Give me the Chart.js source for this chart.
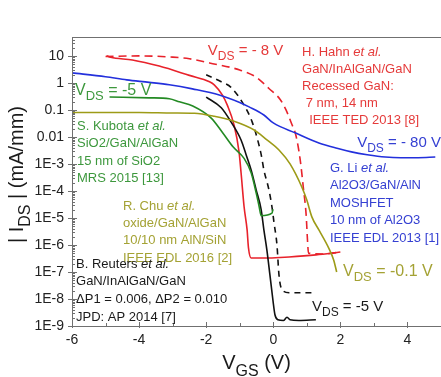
<!DOCTYPE html>
<html>
<head>
<meta charset="utf-8">
<script src="https://cdn.jsdelivr.net/npm/chart.js@4.4.1/dist/chart.umd.min.js"></script>
<style>
  html, body { margin: 0; padding: 0; background: #fff; overflow: hidden; }
  canvas { display: block; }
</style>
</head>
<body>
<canvas id="c" width="441" height="377"></canvas>
<script>
// Transfer curves: gate voltage V_GS (V) and |I_DS| (mA/mm) for each device
const liVgs = [-6.0, -5.0, -4.37, -3.7, -3.1, -2.41, -1.61, -1.0, -0.72, -0.28, 0.0, 0.67, 1.36, 1.9, 2.33, 2.8, 3.34, 3.8, 4.32, 4.83];
const liIds = [2.35, 1.7, 1.3, 1.05, 0.85, 0.6, 0.36, 0.19, 0.13, 0.065, 0.033, 0.014, 6e-3, 3.8e-3, 2.8e-3, 2.2e-3, 1.8e-3, 1.7e-3, 1.7e-3, 1.8e-3];

const hahnVgs = [-4.97, -4.85, -4.2, -3.4, -2.5, -1.9, -1.76, -1.52, -1.37, -1.17, -1.02, -0.96, -0.87, -0.78, -0.74, -0.66, -0.13, 0.47, 1.27, 2.0];
const hahnIds = [10.2, 8.9, 7.1, 4.2, 1.9, 1.1, 0.85, 0.36, 0.15, 0.028, 2.8e-3, 4.7e-4, 2.6e-5, 3.6e-6, 8e-7, 3.3e-7, 3.3e-7, 3.6e-7, 4.3e-7, 5.5e-7];

const hahnRecVgs = [-5.0, -4.0, -3.0, -2.5, -1.9, -1.0, -0.5, -0.13, 0.2, 0.38, 0.55, 0.67, 0.8, 0.9, 0.98, 1.02, 1.05, 1.5, 2.0];
const hahnRecIds = [9.5, 10, 9.0, 7.8, 5.5, 3.0, 1.6, 0.62, 0.25, 0.1, 0.03, 0.012, 1.5e-3, 1.2e-4, 1.3e-5, 1.5e-6, 5e-7, 4.6e-7, 5.5e-7];

const reutersAVgs = [-2.0, -1.55, -1.26, -0.87, -0.63, -0.48, -0.36, -0.28, -0.13, -0.04, 0.02, 0.11, 0.17, 0.26, 0.47, 1.15];
const reutersAIds = [2.0, 1.1, 0.68, 0.15, 0.036, 9e-3, 2.2e-3, 6e-4, 1.1e-4, 2.6e-5, 7e-6, 1e-6, 7.8e-8, 2.2e-8, 1.7e-8, 1.7e-8];

const reutersBVgs = [-2.0, -1.55, -1.26, -0.96, -0.81, -0.66, -0.51, -0.36, -0.28, -0.19, -0.10, -0.01, 0.05, 0.14, 0.3, 0.41, 0.5, 0.76, 1.27];
const reutersBIds = [0.30, 0.12, 0.036, 7.7e-3, 2.2e-3, 6e-4, 1.1e-4, 2e-5, 3.6e-6, 6.5e-7, 7.8e-8, 9e-9, 2.6e-9, 1.7e-9, 1.6e-9, 2.1e-9, 1.7e-9, 1.6e-9, 1.7e-9];

const kubotaVgs = [-4.88, -3.69, -3.1, -2.8, -2.4, -1.85, -1.52, -1.2, -0.87, -0.66, -0.51, -0.42, -0.36, -0.04, -0.01];
const kubotaIds = [0.30, 0.28, 0.26, 0.2, 0.14, 0.05, 0.015, 4.3e-3, 1.6e-3, 4.7e-4, 8.5e-5, 2.6e-5, 1.2e-5, 1.5e-5, 2.1e-5];

const chuVgs = [-6.0, -4.0, -3.0, -2.35, -1.76, -1.17, -0.57, -0.2, 0.17, 0.5, 0.85, 1.0, 1.15, 1.36, 1.65, 1.8, 1.89];
const chuIds = [0.08, 0.08, 0.077, 0.075, 0.058, 0.038, 0.018, 8e-3, 3.3e-3, 1e-3, 1.4e-4, 4.6e-5, 1.1e-5, 3.6e-6, 7.8e-7, 2.8e-7, 1.0e-7];

// Axis ticks
const xTickValues = [-6, -4, -2, 0, 2, 4];
const xTickLabels = ['-6', '-4', '-2', '0', '2', '4'];
const yTickValues = [1e-9, 1e-8, 1e-7, 1e-6, 1e-5, 1e-4, 1e-3, 0.01, 0.1, 1, 10];
const yTickLabels = ['1E-9', '1E-8', '1E-7', '1E-6', '1E-5', '1E-4', '1E-3', '0.01', '0.1', '1', '10'];

const FAMILY = '"Liberation Sans", Arial, Helvetica, sans-serif';
const RED = '#e8222b', BLUE = '#2330dc', GREEN = '#238a23', OLIVE = '#9d9b17', BLACK = '#111111';
const RED_T = '#e53a3a', BLUE_T = '#3540d2', GREEN_T = '#3d983d', OLIVE_T = '#a4a234', BLACK_T = '#1a1a1a';
const AXIS = '#707070';

const toPoints = (vg, id) => vg.map((v, i) => ({ x: v, y: id[i] }));

// Text annotations, anchored in data coordinates (x = V_GS, y = |I_DS| at baseline)
const notes = [
  { x: -1.95, y: 10.8, color: RED_T, size: 15, parts: [['V'], ['DS', 'sub'], [' = - 8 V']] },
  { x: -5.91, y: 0.356, color: GREEN_T, size: 16, parts: [['V'], ['DS', 'sub'], [' = -5 V']] },
  { x: 2.50, y: 4.2e-3, color: BLUE_T, size: 15, parts: [['V'], ['DS', 'sub'], [' = - 80 V']] },
  { x: 2.08, y: 7.4e-8, color: OLIVE_T, size: 16, parts: [['V'], ['DS', 'sub'], [' = -0.1 V']] },
  { x: 1.155, y: 3.5e-9, color: BLACK_T, size: 15, parts: [['V'], ['DS', 'sub'], [' = -5 V']] }
];
const blocks = [
  { x: 0.857, y: 10.3, color: RED_T, gap: 17, lines: [
    [['H. Hahn '], ['et al.', 'i']],
    [['GaN/InAlGaN/GaN']],
    [['Recessed GaN:']],
    [[' 7 nm, 14 nm']],
    [['  IEEE TED 2013 [8]']]
  ]},
  { x: -5.85, y: 0.018, color: GREEN_T, gap: 17.3, lines: [
    [['S. Kubota '], ['et al.', 'i']],
    [['SiO2/GaN/AlGaN']],
    [['15 nm of SiO2']],
    [['MRS 2015 [13]']]
  ]},
  { x: -4.48, y: 2.0e-5, color: OLIVE_T, gap: 17.3, lines: [
    [['R. Chu '], ['et al.', 'i']],
    [['oxide/GaN/AlGaN']],
    [['10/10 nm AlN/SiN']],
    [['IEEE EDL 2016 [2]']]
  ]},
  { x: -5.88, y: 1.46e-7, color: BLACK_T, gap: 17.7, lines: [
    [['B. Reuters '], ['et al.', 'i']],
    [['GaN/InAlGaN/GaN']],
    [['\u0394P1 = 0.006, \u0394P2 = 0.010']],
    [['JPD: AP 2014 [7]']]
  ]},
  { x: 1.69, y: 5.2e-4, color: BLUE_T, gap: 17.5, lines: [
    [['G. Li '], ['et al.', 'i']],
    [['Al2O3/GaN/AlN']],
    [['MOSHFET']],
    [['10 nm of Al2O3']],
    [['IEEE EDL 2013 [1]']]
  ]}
];

function partFont(style, size) {
  const s = style === 'sub' ? Math.round(size * 0.8) : size;
  return (style === 'i' ? 'italic ' : '') + s + 'px ' + FAMILY;
}
function richWidth(ctx, parts, size) {
  let w = 0;
  for (const [t, st] of parts) { ctx.font = partFont(st, size); w += ctx.measureText(t).width; }
  return w;
}
function drawRich(ctx, x, y, parts, size, color, align) {
  ctx.save();
  ctx.fillStyle = color;
  ctx.textBaseline = 'alphabetic';
  ctx.textAlign = 'left';
  let cx = align === 'center' ? x - richWidth(ctx, parts, size) / 2 : x;
  for (const [t, st] of parts) {
    ctx.font = partFont(st, size);
    const dy = st === 'sub' ? size * 0.33 : 0;
    ctx.fillText(t, cx, y + dy);
    cx += ctx.measureText(t).width;
  }
  ctx.restore();
}

const decorations = {
  id: 'decorations',
  afterDraw(chart) {
    const ctx = chart.ctx, a = chart.chartArea;
    const xs = chart.scales.x, ys = chart.scales.y;
    ctx.save();
    // frame (left, top, bottom)
    ctx.strokeStyle = AXIS;
    ctx.lineWidth = 1;
    ctx.beginPath();
    ctx.moveTo(a.left + 0.5, a.bottom + 0.5);
    ctx.lineTo(a.left + 0.5, a.top + 0.5);
    ctx.lineTo(a.right, a.top + 0.5);
    ctx.moveTo(a.left, a.bottom + 0.5);
    ctx.lineTo(a.right, a.bottom + 0.5);
    // y ticks: decades cross the axis, minors point inward
    for (let e = -9; e <= 1; e++) {
      const py = Math.round(ys.getPixelForValue(Math.pow(10, e))) + 0.5;
      ctx.moveTo(a.left - 4, py); ctx.lineTo(a.left + 5, py);
      for (let m = 2; m <= 9; m++) {
        const v = m * Math.pow(10, e);
        if (v > ys.max) break;
        const pm = Math.round(ys.getPixelForValue(v)) + 0.5;
        ctx.moveTo(a.left, pm); ctx.lineTo(a.left + 3, pm);
      }
    }
    // x ticks: every volt, inward
    for (let v = -6; v <= 5; v++) {
      const px = Math.round(xs.getPixelForValue(v)) + 0.5;
      const major = v % 2 === 0;
      ctx.moveTo(px, a.bottom + (major ? 2 : 0));
      ctx.lineTo(px, a.bottom - (major ? 4 : 3));
    }
    ctx.stroke();
    ctx.restore();

    // annotations
    for (const n of notes) {
      drawRich(ctx, xs.getPixelForValue(n.x), ys.getPixelForValue(n.y), n.parts, n.size, n.color, 'left');
    }
    for (const b of blocks) {
      const x0 = xs.getPixelForValue(b.x), y0 = ys.getPixelForValue(b.y);
      b.lines.forEach((ln, i) => drawRich(ctx, x0, y0 + i * b.gap, ln, 13, b.color, 'left'));
    }

    // axis titles
    drawRich(ctx, (a.left + a.right) / 2, a.bottom + 43,
      [['V'], ['GS', 'sub'], [' (V)']], 20, '#1a1a1a', 'center');
    ctx.save();
    ctx.translate(23, (a.top + a.bottom) / 2 - 7);
    ctx.rotate(-Math.PI / 2);
    drawRich(ctx, 0, 0, [['| I'], ['DS', 'sub'], [' | (mA/mm)']], 20, '#1a1a1a', 'center');
    ctx.restore();
  }
};

const line = (vg, id, color, dash) => ({
  data: toPoints(vg, id),
  borderColor: color,
  borderWidth: 1.6,
  borderDash: dash || [],
  pointRadius: 0,
  fill: false,
  cubicInterpolationMode: 'monotone'
});

new Chart(document.getElementById('c'), {
  type: 'line',
  data: {
    datasets: [
      line(chuVgs, chuIds, OLIVE),
      line(liVgs, liIds, BLUE),
      line(kubotaVgs, kubotaIds, GREEN),
      line(reutersAVgs, reutersAIds, BLACK, [6, 5]),
      line(reutersBVgs, reutersBIds, BLACK),
      line(hahnRecVgs, hahnRecIds, RED, [8, 5]),
      line(hahnVgs, hahnIds, RED)
    ]
  },
  options: {
    responsive: false,
    animation: false,
    devicePixelRatio: 1,
    layout: { padding: { top: 37, right: 0, bottom: 0, left: 0 } },
    plugins: { legend: { display: false }, tooltip: { enabled: false } },
    scales: {
      x: {
        type: 'linear', min: -6, max: 5,
        grid: { display: false, drawTicks: false },
        border: { display: false },
        afterBuildTicks: s => { s.ticks = xTickValues.map(v => ({ value: v })); },
        afterFit: s => { s.height = 51; },
        ticks: {
          font: { family: FAMILY, size: 14 }, color: '#222', padding: 6,
          maxRotation: 0, autoSkip: false,
          callback: (v, i) => xTickLabels[i]
        }
      },
      y: {
        type: 'logarithmic', min: 1e-9, max: 50.1,
        grid: { display: false, drawTicks: false },
        border: { display: false },
        afterBuildTicks: s => { s.ticks = yTickValues.map(v => ({ value: v })); },
        afterFit: s => { s.width = 72; },
        ticks: {
          font: { family: FAMILY, size: 14 }, color: '#222', padding: 8,
          autoSkip: false,
          callback: (v, i) => yTickLabels[i]
        }
      }
    }
  },
  plugins: [decorations]
});
</script>
</body>
</html>
